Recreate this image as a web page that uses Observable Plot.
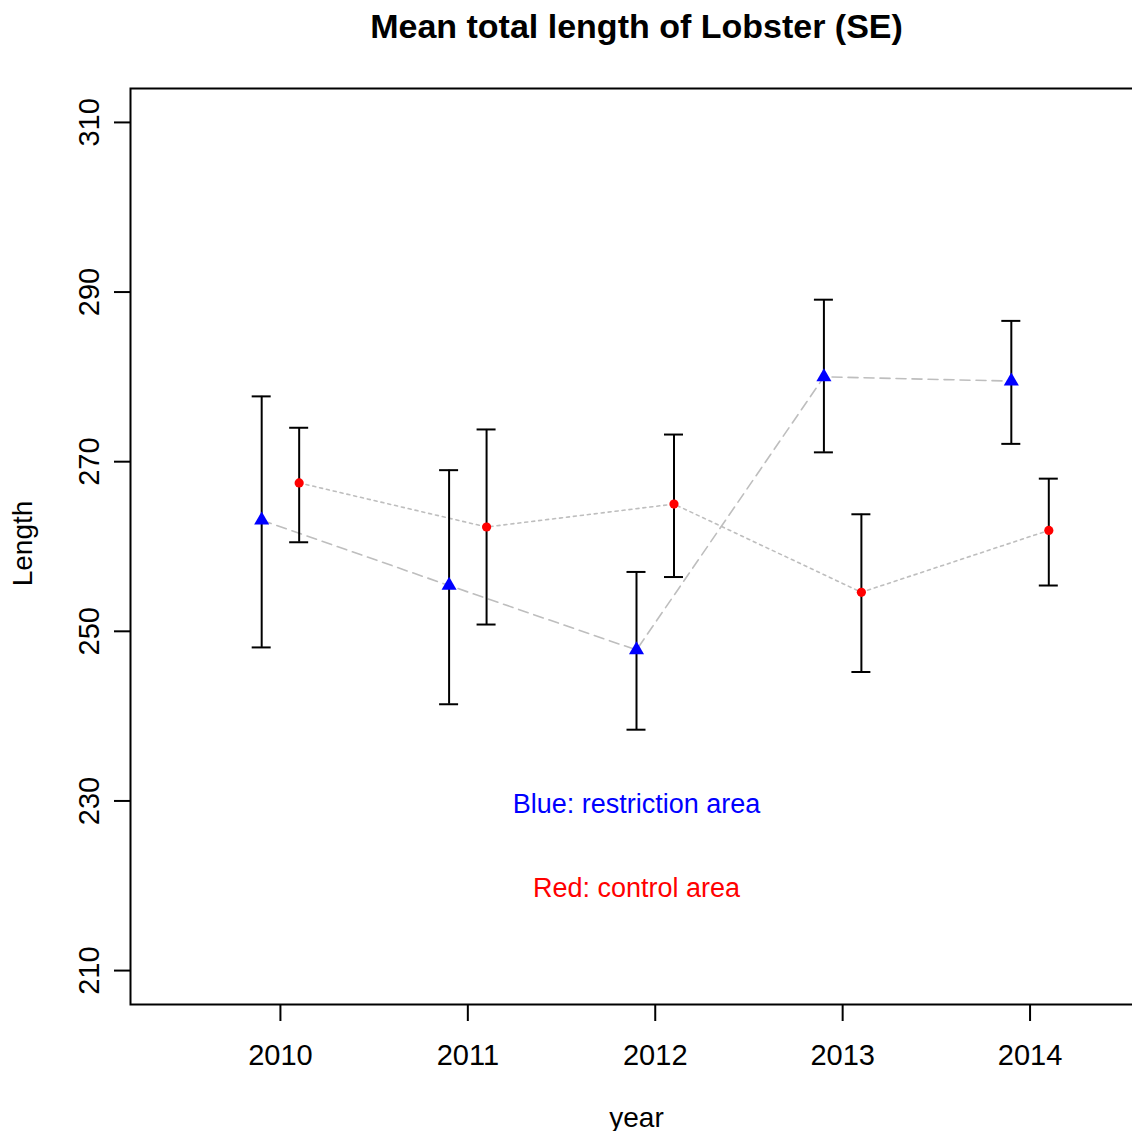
<!DOCTYPE html>
<html>
<head>
<meta charset="utf-8">
<script src="https://cdn.jsdelivr.net/npm/d3@7"></script>
<script src="https://cdn.jsdelivr.net/npm/@observablehq/plot@0.6"></script>
<style>
  html, body { margin: 0; padding: 0; background: #fff; overflow: hidden; }
</style>
</head>
<body>
<div id="chart"></div>
<script>
// Survey years and axis ticks
const years = [2010, 2011, 2012, 2013, 2014];
const yTicks = [210, 230, 250, 270, 290, 310];

// Restriction area (blue): mean total length and mean ± SE
const restrictionMean  = [263.1, 255.4, 247.8, 280.0, 279.5];
const restrictionUpper = [277.7, 269.0, 257.0, 289.1, 286.6];
const restrictionLower = [248.1, 241.4, 238.4, 271.1, 272.1];

// Control area (red): mean total length and mean ± SE
const controlMean  = [267.5, 262.3, 265.0, 254.6, 261.9];
const controlUpper = [274.0, 273.8, 273.2, 263.8, 268.0];
const controlLower = [260.5, 250.8, 256.4, 245.2, 255.4];

// The two groups are nudged either side of each year so the bars don't overlap
const nudge = 0.1;
const restriction = years.map((yr, i) => ({
  x: yr - nudge, mean: restrictionMean[i], lo: restrictionLower[i], hi: restrictionUpper[i]
}));
const control = years.map((yr, i) => ({
  x: yr + nudge, mean: controlMean[i], lo: controlLower[i], hi: controlUpper[i]
}));
const both = restriction.concat(control);

const font = "'Liberation Sans', Arial, Helvetica, sans-serif";

const chart = Plot.plot({
  width: 1132,
  height: 1131,
  marginLeft: 130,
  marginTop: 88,
  marginBottom: 127,
  marginRight: -10,
  x: {domain: [2009.2, 2014.6], axis: null},
  y: {domain: [206, 314], axis: null},
  style: {fontFamily: font, background: "white", color: "black", overflow: "hidden"},
  marks: [
    // connecting lines
    Plot.line(restriction, {x: "x", y: "mean", stroke: "#bebebe", strokeWidth: 1.6, strokeDasharray: "10,6"}),
    Plot.line(control, {x: "x", y: "mean", stroke: "#bebebe", strokeWidth: 1.6, strokeDasharray: "3,4"}),

    // error bars with end caps
    Plot.ruleX(both, {x: "x", y1: "lo", y2: "hi", stroke: "black", strokeWidth: 2}),
    Plot.ruleY(both, {x1: "x", x2: "x", y: "hi", stroke: "black", strokeWidth: 2, insetLeft: -9.5, insetRight: -9.5}),
    Plot.ruleY(both, {x1: "x", x2: "x", y: "lo", stroke: "black", strokeWidth: 2, insetLeft: -9.5, insetRight: -9.5}),

    // group means
    Plot.dot(restriction, {x: "x", y: "mean", symbol: "triangle", r: 5.6, fill: "#0000ff", stroke: "none"}),
    Plot.dot(control, {x: "x", y: "mean", r: 4.6, fill: "#ff0000", stroke: "none"}),

    // box around the plotting region
    Plot.frame({stroke: "black", strokeWidth: 2}),

    // axis ticks
    Plot.axisY(yTicks, {tickSize: 16, tickFormat: () => "", label: null, stroke: "black", strokeWidth: 2}),
    Plot.axisX(years, {tickSize: 17, tickFormat: () => "", label: null, stroke: "black", strokeWidth: 2}),

    // tick labels
    Plot.text(yTicks, {y: d => d, text: d => String(d), frameAnchor: "left", rotate: -90, textAnchor: "middle", lineAnchor: "middle", dx: -41, fontSize: 29, fill: "black"}),
    Plot.text(years, {x: d => d, text: d => String(d), frameAnchor: "bottom", textAnchor: "middle", lineAnchor: "middle", dy: 51, fontSize: 29, fill: "black"}),

    // axis titles and main title
    Plot.text(["year"], {text: d => d, frameAnchor: "bottom", textAnchor: "middle", lineAnchor: "middle", dy: 114, fontSize: 28, fill: "black"}),
    Plot.text(["Length"], {text: d => d, frameAnchor: "left", rotate: -90, textAnchor: "middle", lineAnchor: "middle", dx: -107, dy: -3, fontSize: 28, fill: "black"}),
    Plot.text(["Mean total length of Lobster (SE)"], {text: d => d, frameAnchor: "top", textAnchor: "middle", lineAnchor: "middle", dy: -61, fontSize: 34, fontWeight: "bold", fill: "black"}),

    // group key inside the panel
    Plot.text(["Blue: restriction area"], {text: d => d, x: 2011.9, y: 230, dy: 3, fontSize: 27, fill: "#0000ff"}),
    Plot.text(["Red: control area"], {text: d => d, x: 2011.9, y: 220, dy: 3, fontSize: 27, fill: "#ff0000"})
  ]
});

document.getElementById("chart").appendChild(chart);
</script>
</body>
</html>
